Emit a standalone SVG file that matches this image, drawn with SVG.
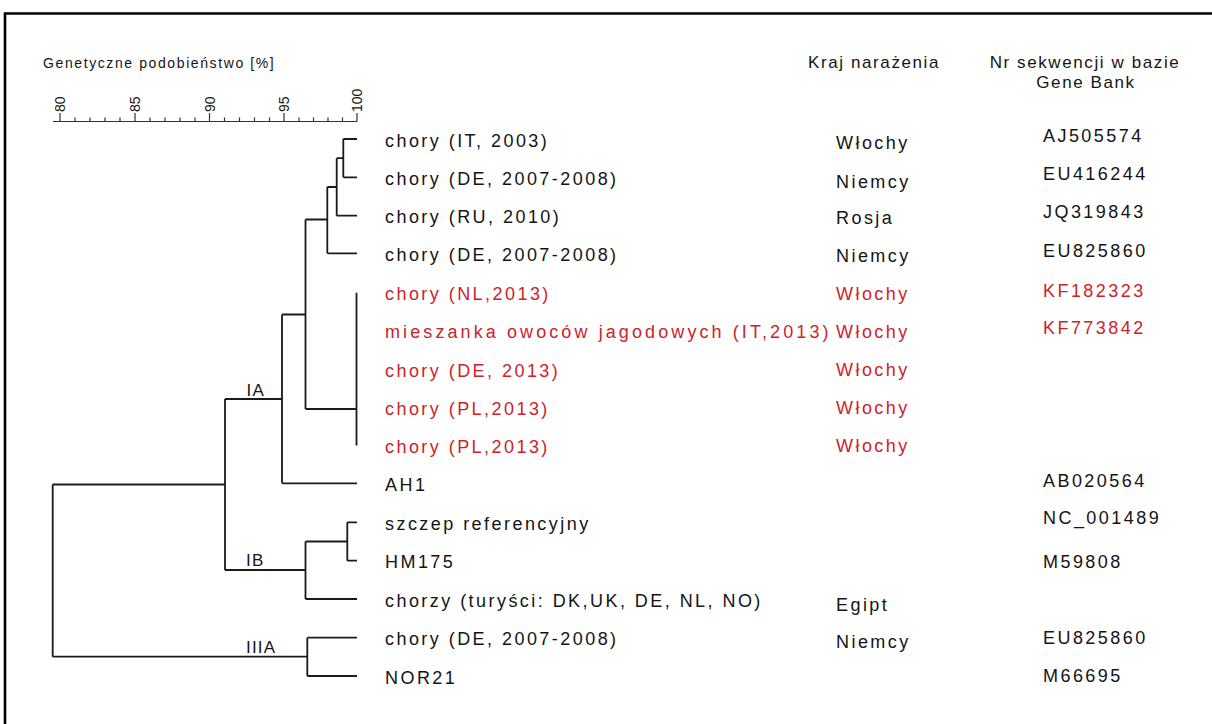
<svg xmlns="http://www.w3.org/2000/svg" width="1212" height="724" viewBox="0 0 1212 724">
<style>
text{font-family:"Liberation Sans",Arial,sans-serif;fill:#141414}
.t{font-size:18px;letter-spacing:2.45px}
.h{font-size:17px;letter-spacing:1.6px}
.ti{font-size:14px;letter-spacing:1.6px}
.sc{font-size:14px}
.cl{font-size:17px;letter-spacing:1.2px}
.r{fill:#cf2229}
.ln{fill:none;stroke:#1a1a1a;stroke-width:1.8}
.tk{fill:none;stroke:#333;stroke-width:1.2}
</style>
<rect width="1212" height="724" fill="#fff"/>
<path d="M5,724 V13.5 H1212" fill="none" stroke="#000" stroke-width="2.6"/>

<g id="scale">
<text class="ti" x="43" y="68">Genetyczne podobieństwo [%]</text>
<path class="tk" d="M53,121.5 H357"/>
<path class="tk" d="M60,121.5V113 M135,121.5V113 M209.5,121.5V113 M284,121.5V113 M357,121.5V113
M75,121.5V117.5 M90,121.5V117.5 M105,121.5V117.5 M120,121.5V117.5
M150,121.5V117.5 M165,121.5V117.5 M180,121.5V117.5 M195,121.5V117.5
M224.5,121.5V117.5 M239.5,121.5V117.5 M254.5,121.5V117.5 M269.5,121.5V117.5
M299,121.5V117.5 M313.5,121.5V117.5 M328,121.5V117.5 M342.5,121.5V117.5"/>
<text class="sc" transform="translate(65,112) rotate(-90)">80</text>
<text class="sc" transform="translate(140,112) rotate(-90)">85</text>
<text class="sc" transform="translate(214.5,112) rotate(-90)">90</text>
<text class="sc" transform="translate(289,112) rotate(-90)">95</text>
<text class="sc" transform="translate(362,112) rotate(-90)">100</text>
</g>

<g id="headers">
<text class="h" x="808" y="68">Kraj narażenia</text>
<text class="h" x="1085" y="68" text-anchor="middle">Nr sekwencji w bazie</text>
<text class="h" x="1086" y="88" text-anchor="middle">Gene Bank</text>
</g>

<g id="connectors">
<path class="ln" d="M343.3,139 H357 M343.3,177.3 H357 M343.3,139 V177.3 M336.7,158.2 H343.3"/>
<path class="ln" d="M336.7,215.7 H357 M336.7,158.2 V215.7 M327.3,187 H336.7"/>
<path class="ln" d="M327.3,253.3 H357 M327.3,187 V253.3 M305.5,219.5 H327.3"/>
<path class="ln" d="M356.5,292.7 V445.5 M305.5,409 H356.5 M305.5,219.5 V409 M282,314.5 H305.5"/>
<path class="ln" d="M282,483.3 H357 M282,314.5 V483.3 M225,399 H282"/>
<path class="ln" d="M347.3,522.3 H357 M347.3,560.7 H357 M347.3,522.3 V560.7 M305.5,541.5 H347.3"/>
<path class="ln" d="M305.5,599 H357 M305.5,541.5 V599 M225,570 H305.5"/>
<path class="ln" d="M225,399 V570 M52.7,484.5 H225"/>
<path class="ln" d="M307.3,637.7 H357 M307.3,676 H357 M307.3,637.7 V676 M52.7,656.7 H307.3 M52.7,484.5 V656.7"/>
<text class="cl" x="246.5" y="396">IA</text>
<text class="cl" x="246" y="566">IB</text>
<text class="cl" x="246" y="652.5">IIIA</text>
</g>

<g id="n1"><text class="t" x="385" y="146.5">chory (IT, 2003)</text><text class="t" x="836" y="149">Włochy</text><text class="t" x="1043" y="141.5">AJ505574</text></g>
<g id="n2"><text class="t" x="385" y="184.8">chory (DE, 2007-2008)</text><text class="t" x="836" y="188">Niemcy</text><text class="t" x="1043" y="179.5">EU416244</text></g>
<g id="n3"><text class="t" x="385" y="223">chory (RU, 2010)</text><text class="t" x="836" y="224">Rosja</text><text class="t" x="1043" y="217.5">JQ319843</text></g>
<g id="n4"><text class="t" x="385" y="260.8">chory (DE, 2007-2008)</text><text class="t" x="836" y="262">Niemcy</text><text class="t" x="1043" y="256.5">EU825860</text></g>
<g id="n5"><text class="t r" x="385" y="300">chory (NL,2013)</text><text class="t r" x="836" y="300">Włochy</text><text class="t r" x="1043" y="296.5">KF182323</text></g>
<g id="n6"><text class="t r" x="385" y="338" textLength="446" lengthAdjust="spacing">mieszanka owoców jagodowych (IT,2013)</text><text class="t r" x="836" y="338">Włochy</text><text class="t r" x="1043" y="334">KF773842</text></g>
<g id="n7"><text class="t r" x="385" y="376.5">chory (DE, 2013)</text><text class="t r" x="836" y="376">Włochy</text></g>
<g id="n8"><text class="t r" x="385" y="414.5">chory (PL,2013)</text><text class="t r" x="836" y="413.5">Włochy</text></g>
<g id="n9"><text class="t r" x="385" y="452.5">chory (PL,2013)</text><text class="t r" x="836" y="451.5">Włochy</text></g>
<g id="n10"><text class="t" x="385" y="490.8">AH1</text><text class="t" x="1043" y="487">AB020564</text></g>
<g id="n11"><text class="t" x="385" y="529.8">szczep referencyjny</text><text class="t" x="1043" y="524">NC_001489</text></g>
<g id="n12"><text class="t" x="385" y="568.2">HM175</text><text class="t" x="1043" y="567.5">M59808</text></g>
<g id="n13"><text class="t" x="385" y="606.5">chorzy (turyści: DK,UK, DE, NL, NO)</text><text class="t" x="836" y="611">Egipt</text></g>
<g id="n14"><text class="t" x="385" y="645.2">chory (DE, 2007-2008)</text><text class="t" x="836" y="648">Niemcy</text><text class="t" x="1043" y="644">EU825860</text></g>
<g id="n15"><text class="t" x="385" y="683.5">NOR21</text><text class="t" x="1043" y="682">M66695</text></g>
</svg>
